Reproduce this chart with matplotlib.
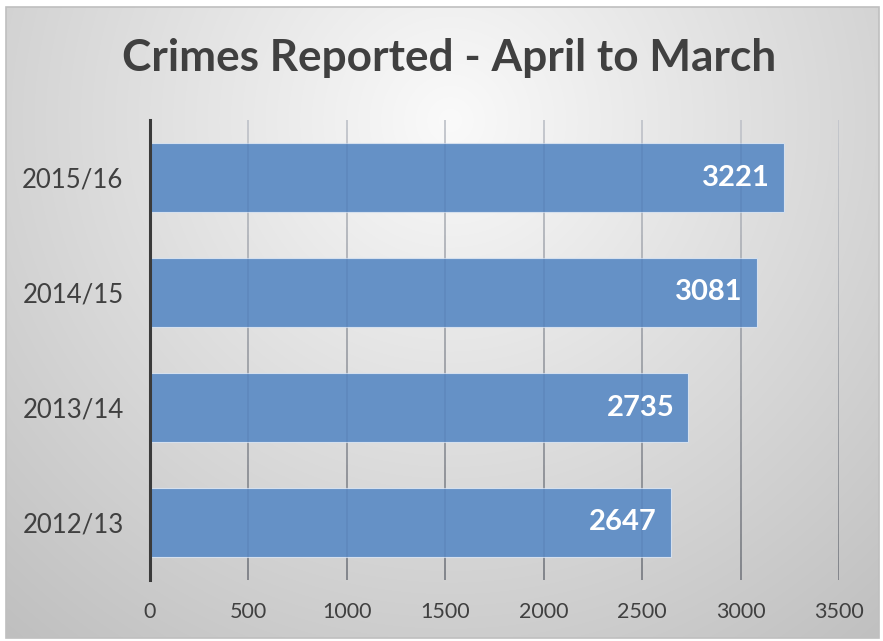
import numpy as np
import matplotlib
matplotlib.use("Agg")
import matplotlib.pyplot as plt
from matplotlib.collections import LineCollection
from matplotlib.patches import Rectangle

categories = ["2012/13", "2013/14", "2014/15", "2015/16"]
values = [2647, 2735, 3081, 3221]
x_ticks = [0, 500, 1000, 1500, 2000, 2500, 3000, 3500]
title = "Crimes Reported - April to March"

W, H = 883, 641
fig = plt.figure(figsize=(W / 100, H / 100), dpi=100, facecolor="white")

def fx(px):
    return px / W

def fy(py):
    return 1 - py / H

# background with radial gradient
bx0, by0, bx1, by1 = 6, 7, 879, 638
bg = fig.add_axes([fx(bx0), fy(by1), fx(bx1 - bx0), (by1 - by0) / H])
bg.set_axis_off()
xx, yy = np.meshgrid(np.arange(bx0, bx1), np.arange(by0, by1))
d = np.hypot(xx - 450, (yy - 120) * 1.0)
v = 250 - 58 * (d / 670)
v = np.clip(v, 0, 255) / 255.0
img = np.dstack([v, v, v])
bg.imshow(img, aspect="auto", extent=[0, 1, 0, 1], interpolation="bilinear")
bg.set_xlim(0, 1)
bg.set_ylim(0, 1)
bg.add_patch(Rectangle((0, 0), 1, 1, transform=bg.transAxes, fill=False,
                       edgecolor="#bfbfbf", linewidth=1.2, clip_on=False))

# main axes
ax_l, ax_r, ax_t, ax_b = 150, 839, 120, 580
ax = fig.add_axes([fx(ax_l), fy(ax_b), fx(ax_r - ax_l), (ax_b - ax_t) / H])
ax.patch.set_alpha(0)
ypos = np.arange(len(categories))
ax.barh(ypos, values, height=0.6, color="#6591c6", edgecolor="#d5e0ee",
        linewidth=0.8, zorder=2)

ax.set_xlim(0, 3500)
ax.set_ylim(-0.5, len(categories) - 0.5)

# gradient gridlines
n = 60
ts = np.linspace(0, 1, n + 1)
for xt in x_ticks[1:]:
    segs = [[(xt, ts[i]), (xt, ts[i + 1])] for i in range(n)]
    cols = []
    for i in range(n):
        t = 1 - (ts[i] + ts[i + 1]) / 2  # 0 top -> 1 bottom
        g = (215 - 80 * t) / 255
        cols.append((g, g, g, 1.0))
    lc = LineCollection(segs, colors=cols, linewidths=1.3,
                        transform=ax.get_xaxis_transform(), zorder=1)
    ax.add_collection(lc)
    lc2 = LineCollection(segs, colors=[(0.2, 0.3, 0.5, 0.12)] * n,
                         linewidths=1.3, transform=ax.get_xaxis_transform(), zorder=3)
    ax.add_collection(lc2)

for s in ["top", "right", "bottom"]:
    ax.spines[s].set_visible(False)
ax.spines["left"].set_color("#3a3a3a")
ax.spines["left"].set_linewidth(2.2)
ax.spines["left"].set_zorder(4)

ax.set_yticks(ypos)
ax.set_yticklabels(categories)
ax.set_xticks(x_ticks)
ax.set_xticklabels([str(t) for t in x_ticks])
ax.tick_params(axis="y", length=0, pad=19, labelsize=18.5, labelcolor="#404040")
ax.tick_params(axis="x", length=0, pad=16, labelsize=15.5, labelcolor="#404040")
for lab in ax.get_yticklabels() + ax.get_xticklabels():
    lab.set_fontfamily("Lato")

for y, val in zip(ypos, values):
    ax.annotate(str(val), xy=(val, y), xytext=(-14, 0), textcoords="offset pixels",
                ha="right", va="center", color="white", fontsize=21,
                fontweight="bold", fontfamily="Lato", zorder=5)

fig.text(fx(449), fy(58), title, ha="center", va="center", fontsize=31.8,
         fontweight="bold", fontfamily="Lato", color="#404040")

fig.savefig("out.png", dpi=100, facecolor="white")
